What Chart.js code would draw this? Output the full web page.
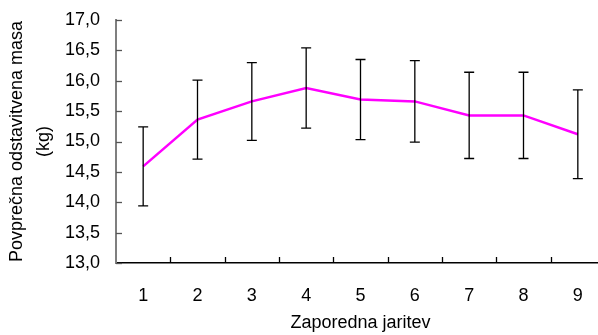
<!DOCTYPE html>
<html>
<head>
<meta charset="utf-8">
<script src="https://cdn.jsdelivr.net/npm/chart.js@4/dist/chart.umd.min.js"></script>
<style>
html,body{margin:0;padding:0;background:#fff;overflow:hidden;width:598px;height:335px;}
canvas{display:block;}
</style>
</head>
<body>
<canvas id="c" width="610" height="335" style="width:610px;height:335px"></canvas>
<script>
const categories = ['1','2','3','4','5','6','7','8','9'];
const means = [14.59, 15.36, 15.66, 15.88, 15.69, 15.66, 15.43, 15.43, 15.12];
const errors = [0.65, 0.65, 0.64, 0.66, 0.66, 0.67, 0.71, 0.71, 0.73];
const yTitle = ['Povprečna odstavitvena masa', '(kg)'];
const xTitle = 'Zaporedna jaritev';

const FONT = "'Liberation Sans', Arial, sans-serif";

const errorBars = {
  id: 'errorBars',
  afterDatasetsDraw(chart) {
    const {ctx, scales: {x, y}} = chart;
    ctx.save();
    ctx.strokeStyle = '#000';
    ctx.lineWidth = 1.3;
    means.forEach((m, i) => {
      const px = x.getPixelForValue(i);
      const top = y.getPixelForValue(m + errors[i]);
      const bot = y.getPixelForValue(m - errors[i]);
      ctx.beginPath();
      ctx.moveTo(px, top); ctx.lineTo(px, bot);
      ctx.moveTo(px - 5, top); ctx.lineTo(px + 5, top);
      ctx.moveTo(px - 5, bot); ctx.lineTo(px + 5, bot);
      ctx.stroke();
    });
    ctx.restore();
  },
  afterDraw(chart) {
    const {ctx, scales: {x, y}, chartArea} = chart;
    ctx.save();
    ctx.strokeStyle = '#555';
    ctx.lineWidth = 1.3;
    y.ticks.forEach((t) => {
      const py = Math.round(y.getPixelForValue(t.value)) + 0.5;
      ctx.beginPath();
      ctx.moveTo(chartArea.left, py);
      ctx.lineTo(chartArea.left + 6, py);
      ctx.stroke();
    });
    ctx.strokeStyle = '#000';
    const step = x.getPixelForValue(1) - x.getPixelForValue(0);
    for (let i = 0; i < categories.length; i++) {
      const px = Math.round(x.getPixelForValue(i) + step / 2) + 0.5;
      ctx.beginPath();
      ctx.moveTo(px, chartArea.bottom);
      ctx.lineTo(px, chartArea.bottom - 6);
      ctx.stroke();
    }
    ctx.restore();
  }
};

new Chart(document.getElementById('c'), {
  type: 'line',
  data: {
    labels: categories,
    datasets: [{
      data: means,
      borderColor: '#FF00FF',
      borderWidth: 2.5,
      pointRadius: 0,
      pointHoverRadius: 0,
      fill: false,
      tension: 0
    }]
  },
  options: {
    responsive: false,
    animation: false,
    events: [],
    layout: {padding: {top: 20, right: 5, bottom: 0, left: 0}},
    plugins: {legend: {display: false}, tooltip: {enabled: false}},
    scales: {
      x: {
        type: 'category',
        offset: true,
        grid: {display: true, drawOnChartArea: false, drawTicks: false},
        border: {display: true, color: '#000', width: 1.5},
        ticks: {color: '#000', padding: 22, maxRotation: 0, font: {family: FONT, size: 18}},
        title: {display: true, text: xTitle, color: '#000', font: {family: FONT, size: 18, lineHeight: 1.2}, padding: {top: 0, bottom: 1}},
        afterFit(scale) { scale.height = 72; scale.paddingLeft = 0; scale.paddingRight = 0; }
      },
      y: {
        min: 13, max: 17,
        grid: {display: true, drawOnChartArea: false, drawTicks: false},
        border: {display: true, color: '#7f7f7f', width: 2},
        ticks: {
          stepSize: 0.5, color: '#000', padding: 16,
          font: {family: FONT, size: 18},
          callback: (v) => Number(v).toFixed(1).replace('.', ',')
        },
        title: {display: true, text: yTitle, color: '#000', font: {family: FONT, size: 18, lineHeight: 1.5}, padding: {top: 4, bottom: 0}},
        afterFit(scale) { scale.width = 116; scale.paddingTop = 0; scale.paddingBottom = 0; }
      }
    }
  },
  plugins: [errorBars]
});
</script>
</body>
</html>
